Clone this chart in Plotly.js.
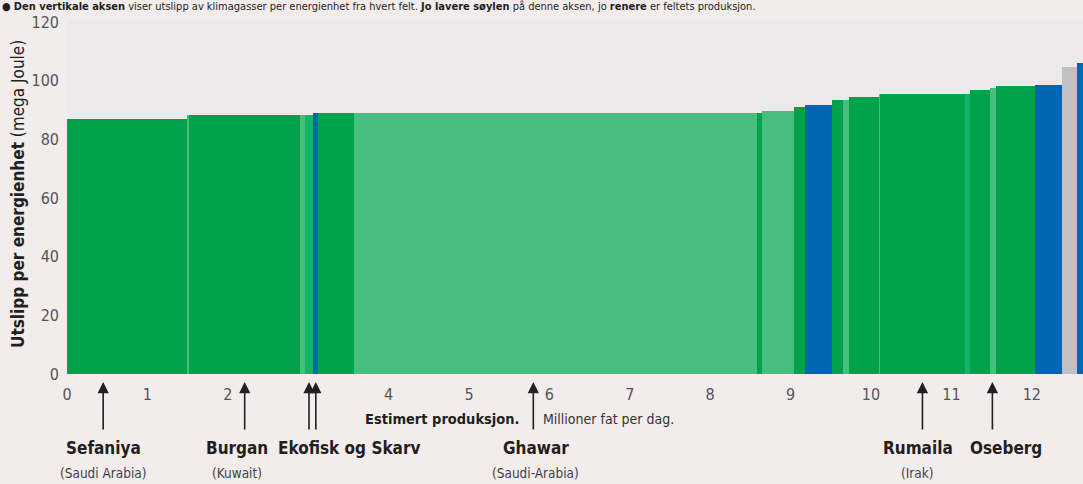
<!DOCTYPE html>
<html>
<head>
<meta charset="utf-8">
<script src="https://cdn.plot.ly/plotly-3.0.1.min.js"></script>
<style>
html,body{margin:0;padding:0;background:#f2ecec;overflow:hidden;}
#chart{width:1083px;height:484px;}
</style>
</head>
<body>
<div id="chart"></div>
<script>
// Production (million barrels per day) of each field, left to right
const production = [1.493, 0.024, 1.381, 0.062, 0.100, 0.062, 0.448, 5.012, 0.062, 0.398, 0.137, 0.336,
                    0.137, 0.074, 0.374, 0.012, 1.057, 0.062, 0.249, 0.075, 0.485, 0.336, 0.186, 0.200];
// Emission per energy unit (mega Joule)
const emission = [86.9, 88.3, 88.3, 88.3, 88.3, 88.9, 89.0, 89.0, 89.0, 89.6, 90.9, 91.6,
                  93.3, 93.3, 94.3, 95.4, 95.4, 95.4, 97.0, 97.5, 98.2, 98.5, 104.7, 105.9];
// Colour group of each field
const group = ['d','l','d','l','m','b','d','l','d','l','d','b',
               'd','l','d','l','d','m','d','l','d','b','g','b'];
const yTicks = [0, 20, 40, 60, 80, 100, 120];
const xTicks = [0,1,2,4,5,6,7,8,9,10,11,12];

const palette = {d:'#00a34b', l:'#48be7e', m:'#12b466', b:'#0066b3', g:'#c0c0c2'};

// build bar positions from cumulative production
const centers = [];
let acc = 0;
production.forEach(w => { centers.push(acc + w/2); acc += w; });

const trace = {
  type:'bar',
  x: centers,
  y: emission,
  width: production,
  marker:{color: group.map(g => palette[g]), line:{width:0}},
  hoverinfo:'x+y'
};

// Labelled fields: arrow position (x in production units) and labels
const fieldArrows = [0.45, 2.21, 3.01, 3.095, 5.80, 10.64, 11.51];
const fieldNames = [
  {name:'Sefaniya', country:'(Saudi Arabia)', x:0.45},
  {name:'Burgan', country:'(Kuwait)', x:2.12},
  {name:'Ekofisk og Skarv', country:'', x:3.51},
  {name:'Ghawar', country:'(Saudi-Arabia)', x:5.83},
  {name:'Rumaila', country:'(Irak)', x:10.58},
  {name:'Oseberg', country:'', x:11.68}
];

const narrow = 'DejaVu Sans Condensed, Liberation Sans Narrow, sans-serif';
const ink = '#231f20';
const plotH = 354;
const pyPaper = px => (374 - px) / plotH;

const annotations = [];
fieldArrows.forEach(x => {
  annotations.push({
    x: x, xref:'x', y: pyPaper(382), yref:'paper',
    ax: 0, ay: 49, showarrow:true, arrowhead:2, arrowsize:1.4, arrowwidth:1.6,
    arrowcolor: ink, text:'', standoff:0
  });
});
fieldNames.forEach(f => {
  annotations.push({
    x: f.x, xref:'x', y: pyPaper(448), yref:'paper', yanchor:'middle', xanchor:'center',
    showarrow:false, text:'<b>'+f.name+'</b>',
    font:{family:narrow, size:17, color:ink}
  });
  if (f.country) {
    annotations.push({
      x: f.x, xref:'x', y: pyPaper(473), yref:'paper', yanchor:'middle', xanchor:'center',
      showarrow:false, text:f.country,
      font:{family:narrow, size:13.5, color:'#444'}
    });
  }
});
// x-axis title pieces
annotations.push({
  x:(522-67)/1016, xref:'paper', y:pyPaper(419), yref:'paper', xanchor:'right', yanchor:'middle',
  showarrow:false, text:'<b>Estimert produksjon.</b>', font:{family:narrow, size:14.5, color:ink}
});
annotations.push({
  x:(541-67)/1016, xref:'paper', y:pyPaper(419), yref:'paper', xanchor:'left', yanchor:'middle',
  showarrow:false, text:'Millioner fat per dag.', font:{family:narrow, size:14, color:'#333'}
});
// y-axis title
annotations.push({
  x:(18-67)/1016, xref:'paper', y:pyPaper(194), yref:'paper', xanchor:'center', yanchor:'middle',
  textangle:-90, showarrow:false,
  text:'<b>Utslipp per energienhet</b> (mega Joule)', font:{family:narrow, size:17, color:ink}
});
// top intro line
annotations.push({
  x:(0-67)/1016, xref:'paper', y:pyPaper(6), yref:'paper', xanchor:'left', yanchor:'middle',
  showarrow:false,
  text:'● <b>Den vertikale aksen</b> viser utslipp av klimagasser per energienhet fra hvert felt. <b>Jo lavere søylen</b> på denne aksen, jo <b>renere</b> er feltets produksjon.',
  font:{family:narrow, size:11, color:ink}
});

const layout = {
  width:1083, height:484,
  margin:{l:67, r:0, t:20, b:110, pad:0},
  paper_bgcolor:'#f2ecec',
  plot_bgcolor:'#ebe9e9',
  showlegend:false,
  bargap:0,
  xaxis:{
    range:[0, 12.637], tickvals:xTicks, ticktext:xTicks.map(String),
    showgrid:false, zeroline:false, showline:false, ticks:'',
    ticklabelstandoff:9,
    tickfont:{family:narrow, size:16, color:'#555'}, fixedrange:true
  },
  yaxis:{
    range:[0, 120.7], tickvals:yTicks, ticktext:yTicks.map(String),
    showgrid:false, zeroline:false, showline:false, ticks:'',
    ticklabelstandoff:7,
    tickfont:{family:narrow, size:16, color:'#555'}, fixedrange:true
  },
  annotations: annotations
};

Plotly.newPlot('chart', [trace], layout, {displayModeBar:false, staticPlot:true});
</script>
</body>
</html>
